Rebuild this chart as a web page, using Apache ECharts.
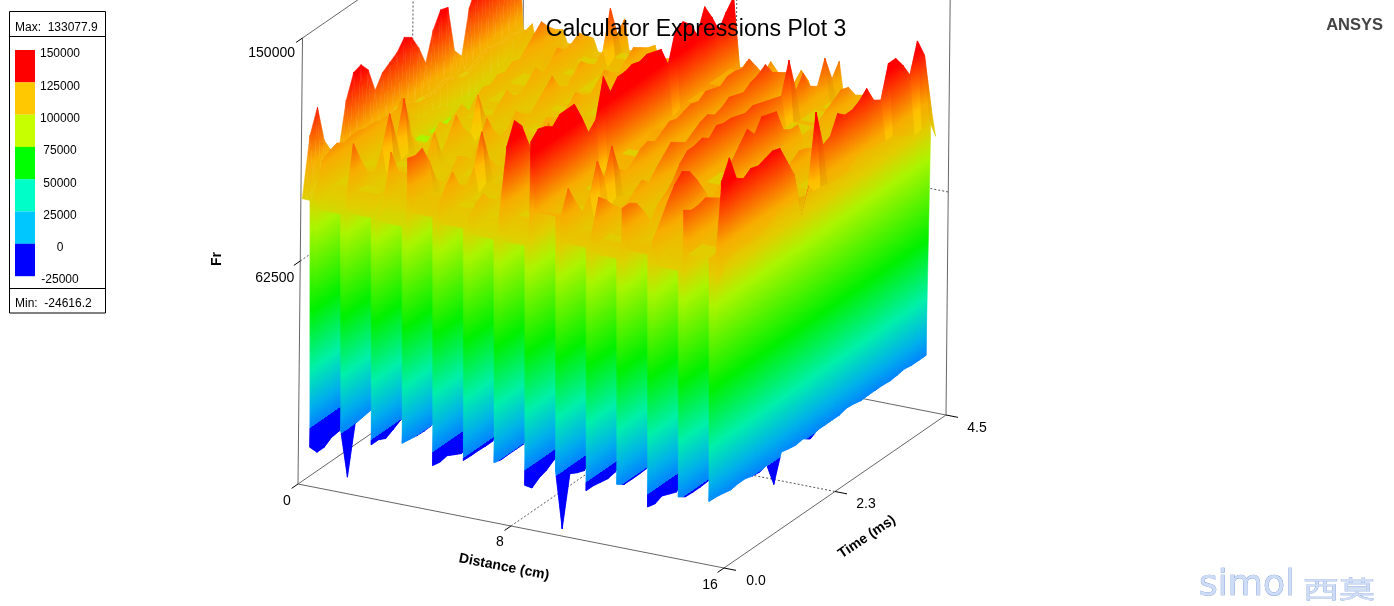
<!DOCTYPE html>
<html><head><meta charset="utf-8">
<style>html,body{margin:0;padding:0;background:#fff}#c{width:1394px;height:606px}</style>
<script src="https://cdn.jsdelivr.net/npm/echarts@6/dist/echarts.min.js"></script>
</head><body><div id="c"></div>
<script>
// ---- sampled times (ms) and slot positions (cm) ----
const times=[0,.147,.293,.44,.587,.733,.88,1.027,1.173,1.32,1.467,1.613,1.76,1.907,2.053,2.2,2.347,2.493,2.64,2.787,2.933,3.08,3.227,3.373,3.52,3.667,3.813,3.96,4.107,4.253,4.4];
const slotDistance=[0.43,1.58,2.73,3.89,5.04,6.19,7.34,8.50,9.65,10.80,11.95,13.11,14.26,15.41];
const firstRidgeDistance=[0.05,0.2];
const ridgeOffset=0.1, shoulderOffset=0.28, edgeOffset=0.09;
// ---- Fr (thousands) along time: slot floors ----
const slot00=[-9.7,-13.6,-13.6,-11.7,-11.3,-10,-8,-5,-3,-1,0,1,0,1,2,1,0,1,1,0,1,2,1,0,1,1,0,1,0,1,0];
const slot01=[-.7,-21,-2,-1.5,-1,0,1,0,1,0,0,1,1,0,1,0,1,1,0,0,1,0,1,0,0,1,1,0,1,0,0];
const slot02=[-4,-4,-5.4,-4,-2.3,-1,0,1,0,1,1,0,0,1,0,1,0,0,1,1,0,1,0,1,0,0,1,0,1,1,0];
const slot03=[-1,-1.5,-2,-2.2,-2,-1,0,0,1,1,0,1,0,0,1,1,0,1,0,1,0,0,1,1,0,1,0,1,1,0,0];
const slot04=[-7.4,-8,-7.4,-9,-10.5,-9,-6,-3,-1,0,1,0,1,0,0,1,1,0,1,0,1,1,0,0,1,0,1,0,0,1,0];
const slot05=[-3,-3.2,-3.2,-3.4,-3.4,-2,-1,0,1,0,0,1,1,0,1,0,1,0,0,1,0,1,1,0,1,0,0,1,1,0,0];
const slot06=[-1.5,-2.3,-2.2,-2.2,-2.2,-1,0,1,0,1,1,0,0,1,0,0,1,1,0,1,1,0,1,0,0,1,0,1,0,1,0];
const slot07=[-8,-11,-9,-8,-6,-4,-2,0,1,0,1,0,1,1,0,0,1,0,1,0,1,1,0,1,0,1,0,0,1,1,0];
const slot08=[0,-24.6,-5,-6.6,-7.7,-5,-2,0,1,1,0,0,1,0,1,1,0,1,0,0,1,0,1,1,0,0,1,0,1,0,0];
const slot09=[-5.4,-5.4,-6,-6.6,-6,-4,-2,0,0,1,0,1,1,0,0,1,0,1,1,0,0,1,0,1,0,1,1,0,0,1,0];
const slot10=[-.5,-2.5,-2.6,-2.6,-2.4,-1,0,1,0,0,1,0,1,1,0,1,0,0,1,1,0,0,1,0,1,0,1,1,0,0,0];
const slot11=[-7,-7.8,-6.6,-7.8,-9,-6,-3,-1,0,1,0,1,0,0,1,0,1,1,0,0,1,1,0,1,0,0,1,0,1,0,0];
const slot12=[-.7,-2.6,-2.8,-2.8,-2.6,-2,-1,0,1,0,1,0,0,1,1,0,0,1,0,1,0,1,1,0,0,1,0,1,0,1,0];
const slot13=[-.1,-.3,-.8,-1.5,-1,-1,-1.9,-2.3,-1.5,-11,-.3,-1,-1.5,-1,-3,-1.5,-1.5,-1.5,-1.5,-.7,-1,-1.7,-1.5,-1.5,-1.5,-1.8,-1.5,-1,-1.5,-1.5,-1.5];
// ---- Fr (thousands) along time: spiky ridge crest of each tooth ----
const ridge00=[87,110,119,104,98,96,114,123,124,120,110,115,117,119,123,121,115,107,118,124,123,104,100,117,124,126,124,120,120,118,118];
const ridge01=[90,101,103,104,102,103,103,102,102,101,101,100,104,95,92,90,91,90,89,87,87,86,86,88,88,90,90,91,95,97,98];
const ridge02=[88,110,102,95,93,100,112,100,114,98,92,90,92,95,92,94,96,92,95,97,96,98,97,99,98,101,104,107,103,100,98];
const ridge03=[86,90,107,98,95,92,94,96,103,93,98,104,97,93,106,96,94,97,100,96,95,98,101,97,99,103,100,101,103,100,97];
const ridge04=[111,110,111,104,95,92,94,98,96,93,99,105,98,94,96,100,97,95,98,101,104,98,96,99,102,99,97,100,115,103,107];
const ridge05=[94,100,104,97,95,100,112,100,95,92,96,101,96,93,97,100,98,96,99,102,99,97,100,103,100,98,101,104,102,100,99];
const ridge06=[92,96,98,94,92,96,104,97,94,91,95,108,98,92,95,99,96,93,97,102,98,95,98,100,97,95,99,102,100,98,96];
const ridge07=[95,121,129,125,116,104,98,96,101,100,96,103,97,94,98,101,103,98,96,100,104,100,97,99,102,100,98,101,103,101,99];
const ridge08=[127,130,129,127,130,130,130,123,115,118,133,125,129,129,130,129,130,129,128,120,132,133,130,124,133,127,120,125,129,98,100];
const ridge09=[100,109,102,96,100,112,103,114,103,100,102,105,106,104,106,108,107,108,109,108,110,109,108,110,110,109,111,106,101,104,98];
const ridge10=[95,108,105,101,98,98,101,103,100,104,107,110,108,106,108,110,111,109,110,112,111,110,112,113,115,110,108,106,100,103,97];
const ridge11=[108,108,106,101,95,100,102,105,110,113,113,114,112,115,114,114,113,112,113,112,111,110,109,121,107,112,105,103,112,102,107];
const ridge12=[98,103,109,114,117,115,110,104,98,100,105,108,112,116,112,117,116,115,106,104,104,95,98,100,102,104,106,105,100,98,96];
const ridge13=[112,110,110,111,109,107,102,100,98,100,102,104,103,101,100,102,104,103,101,100,99,100,102,103,104,102,100,101,102,100,98];
const ridge14=[85.5,124,131,121,119,121,120,121,122,121,114,107,89,98.6,125.4,110.6,112,119,116.5,116.5,118,121,114.5,112.6,125,125,120.4,114.6,126,118.5,96];
// ---- Fr (thousands) along time: smooth shoulder of each tooth ----
const shoulder00=[87,90,93,95,96,96,98,99,99,98,97,98,99,99,98,96,96,95,96,97,96,94,94,95,97,98,97,96,97,96,95];
const shoulder01=[84,88,90,90,90,91,90,90,91,90,90,89,88,86,86,85,85,85,85,84,84,84,85,85,86,86,87,88,89,90,90];
const shoulder02=[85,92,92,90,89,90,92,92,93,91,90,89,89,90,90,90,91,91,91,92,92,92,93,93,93,94,96,97,96,95,93];
const shoulder03=[84,86,92,91,90,89,89,90,91,90,91,92,91,90,92,91,90,91,92,91,90,91,92,91,92,93,93,94,94,93,92];
const shoulder04=[90,92,93,92,90,89,90,91,91,90,91,92,91,90,91,92,91,91,92,93,93,92,92,93,93,93,93,94,96,96,95];
const shoulder05=[88,90,91,91,90,90,92,91,90,90,91,92,91,90,91,92,92,91,92,93,92,92,93,94,93,93,94,95,94,94,93];
const shoulder06=[86,88,89,89,88,88,90,90,89,88,89,91,90,89,90,91,91,90,91,92,91,91,92,93,92,92,93,94,94,93,92];
const shoulder07=[86,90,92,92,91,90,89,89,90,90,89,90,90,89,90,91,91,90,90,92,92,91,91,92,92,92,93,94,94,93,92];
const shoulder08=[100,98,96,94,93,93,94,95,95,96,97,98,99,99,100,100,101,100,100,100,101,102,102,102,103,103,103,103,102,97,96];
const shoulder09=[90,92,91,90,91,93,92,94,93,92,93,94,95,94,95,96,96,97,97,97,98,98,98,98,98,97,96,96,95,94,93];
const shoulder10=[88,92,92,91,90,90,91,92,91,92,93,95,94,94,95,96,96,96,97,97,97,97,98,98,98,97,97,96,94,94,92];
const shoulder11=[92,93,92,91,89,90,91,92,93,95,96,97,97,97,98,98,98,98,98,98,97,97,97,97,96,96,96,95,95,94,94];
const shoulder12=[88,90,93,95,96,96,95,93,91,91,92,93,94,95,95,96,96,96,95,94,93,92,92,92,93,93,94,94,93,92,90];
const shoulder13=[95,95,95,96,95,94,92,91,90,91,91,92,92,91,91,92,92,92,91,91,90,91,91,92,92,92,91,91,91,90,89];
const shoulder14=[86,92,94,94,93,93,94,95,98,98,98,98,97,97,96.5,96,95,95,95,99,99,98,98,97,97,95,93,91.5,91.5,94,85];
// ---- axes and legend text ----
const distanceTicks=[0,8,16], distanceLabels=['0','8','16'];
const timeTicks=[0,2.25,4.5], timeLabels=['0.0','2.3','4.5'];
const frTicks=[150,62.5], frLabels=['150000','62500'];
const legendValues=['150000','125000','100000','75000','50000','25000','0','-25000'];
const legendColors=['#ff0000','#ffc800','#c8ff00','#00ff00','#00ffc8','#00c8ff','#0000ff'];

const slots=[slot00,slot01,slot02,slot03,slot04,slot05,slot06,slot07,slot08,slot09,slot10,slot11,slot12,slot13];
const ridges=[ridge00,ridge01,ridge02,ridge03,ridge04,ridge05,ridge06,ridge07,ridge08,ridge09,ridge10,ridge11,ridge12,ridge13,ridge14];
const shoulders=[shoulder00,shoulder01,shoulder02,shoulder03,shoulder04,shoulder05,shoulder06,shoulder07,shoulder08,shoulder09,shoulder10,shoulder11,shoulder12,shoulder13,shoulder14];

// rows in drawing order, far to near; each tooth keeps its shoulder level up to the next slot
const rows=[{d:firstRidgeDistance[0],v:ridges[0]},{d:firstRidgeDistance[1],v:shoulders[0],top:1},{d:slotDistance[0]-edgeOffset,v:shoulders[0],top:1}];
slots.forEach((s,k)=>{
  rows.push({d:slotDistance[k],v:s});
  rows.push({d:slotDistance[k]+ridgeOffset,v:ridges[k+1],top:1});
  rows.push({d:slotDistance[k]+shoulderOffset,v:shoulders[k+1],top:1});
  if(k+1<slots.length) rows.push({d:slotDistance[k+1]-edgeOffset,v:shoulders[k+1],top:1});
});

// 3D view: maps (distance, time, Fr in thousands) on to the flat hidden axes
function project(d,t,z){
  const h=(z+25)/175;
  return [298+d/16*426+t/4.5*222+h*4.5, 484+d/16*84-t/4.5*153-h*446];
}
const zLo=-25,zHi=150;
function stops(b){
  const mid=b>0?'rgb(255,190,0)':(b<0?'rgb(238,160,0)':'rgb(248,172,0)');
  const low=b>0?'rgb(236,218,0)':'rgb(226,205,0)';
  const s=[[-25,'#0000ff'],[-2.1,'#0000ff'],[-2,'rgb(0,130,255)'],[6,'rgb(0,175,235)'],[21,'rgb(0,240,170)'],[44,'rgb(0,240,0)'],[76,'rgb(170,245,0)'],[88,low],[100,mid],[122,'rgb(255,0,0)'],[150,'rgb(255,0,0)']];
  return s.map(a=>({offset:(a[0]-zLo)/(zHi-zLo),color:a[1]}));
}
const stopSets={'-1':stops(-1),'0':stops(0),'1':stops(1)};
function colorAt(z){
  const st=stopSets[0],o=(z-zLo)/(zHi-zLo);
  for(let i=st.length-1;i>=0;i--) if(o>=st[i].offset) return st[i].color;
  return st[0].color;
}

// surface triangles, far to near
const tris=[];
for(let r=0;r<rows.length-1;r++){
  for(let i=times.length-2;i>=0;i--){
    tris.push([r,i,0]);
    tris.push([r,i,1]);
  }
}
function renderTri(params,api){
  const r=api.value(0),i=api.value(1),w=api.value(2);
  const a=rows[r],b=rows[r+1];
  const nodes=w===0?[[a,i+1],[b,i+1],[b,i]]:[[a,i+1],[b,i],[a,i]];
  const pts=nodes.map(n=>api.coord(project(n[0].d,times[n[1]],n[0].v[n[1]])));
  const zs=nodes.map(n=>n[0].v[n[1]]);
  const ux=pts[1][0]-pts[0][0],uy=pts[1][1]-pts[0][1],vx=pts[2][0]-pts[0][0],vy=pts[2][1]-pts[0][1];
  const det=ux*vy-uy*vx;
  const dz1=zs[1]-zs[0],dz2=zs[2]-zs[0];
  let fill;
  if(Math.abs(det)<1e-3){
    fill=colorAt((zs[0]+zs[1]+zs[2])/3);
  }else{
    const gx=(dz1*vy-dz2*uy)/det, gy=(dz2*ux-dz1*vx)/det, g2=gx*gx+gy*gy;
    if(g2<1e-9){fill=colorAt(zs[0]);}
    else{
      const slope=(a.v[i+1]+b.v[i+1]-a.v[i]-b.v[i])/2;
      const bucket=(a.top&&b.top&&i>1)?(slope>5?1:(slope<-5?-1:0)):0;
      fill={type:'linear',global:true,
        x:pts[0][0]+(zLo-zs[0])*gx/g2,y:pts[0][1]+(zLo-zs[0])*gy/g2,
        x2:pts[0][0]+(zHi-zs[0])*gx/g2,y2:pts[0][1]+(zHi-zs[0])*gy/g2,
        colorStops:stopSets[bucket]};
    }
  }
  return {type:'polygon',shape:{points:pts},style:{fill:fill,stroke:fill,lineWidth:0.5},silent:true};
}

// frame segments as [d1,t1,z1,d2,t2,z2,kind]
const solid=0,dashed=1,tick=2;
const frame=[
 [0,0,-25,0,4.5,-25,solid],[0,4.5,-25,16,4.5,-25,solid],
 [0,0,-25,0,0,150,solid],[0,4.5,-25,0,4.5,150,solid],[16,4.5,-25,16,4.5,150,solid],
 [0,0,150,0,4.5,150,solid],[0,4.5,150,16,4.5,150,solid],
 [8,0,-25,8,4.5,-25,dashed],[0,2.25,-25,16,2.25,-25,dashed],
 [8,4.5,-25,8,4.5,150,dashed],[0,2.25,-25,0,2.25,150,dashed],
 [0,0,62.5,0,4.5,62.5,dashed],[0,4.5,62.5,16,4.5,62.5,dashed]
];
const front=[[0,0,-25,16,0,-25,solid],[16,0,-25,16,4.5,-25,solid]];
distanceTicks.forEach(d=>front.push([d,0,-25,d,-0.13,-25,tick]));
timeTicks.forEach(t=>front.push([16,t,-25,16.45,t,-25,tick]));
frTicks.forEach(z=>front.push([0,0,z,0,-0.13,z,tick]));
function renderSeg(params,api){
  const p=api.coord(project(api.value(0),api.value(1),api.value(2)));
  const q=api.coord(project(api.value(3),api.value(4),api.value(5)));
  const k=api.value(6);
  return {type:'line',shape:{x1:p[0],y1:p[1],x2:q[0],y2:q[1]},silent:true,
    style:{stroke:k===tick?'#000':(k===dashed?'#555':'#666'),lineWidth:1,lineDash:k===dashed?[2,2]:null}};
}

// text
const F='"Liberation Sans",Arial,sans-serif';
const g=[];
function txt(s,x,y,o){
  o=o||{};
  g.push({type:'text',x:x,y:y,rotation:o.rot||0,scaleY:o.sy||1,z:o.z||100,silent:true,
    style:{text:s,font:(o.w||'normal')+' '+(o.size||14)+'px '+(o.fam||F),fill:o.fill||'#000',
      stroke:o.stroke||null,lineWidth:o.lw||0,textAlign:o.al||'center',textVerticalAlign:'middle'}});
}
function rect(x,y,w,h,fill,stroke){
  g.push({type:'rect',shape:{x:x,y:y,width:w,height:h},z:90,silent:true,
    style:{fill:fill,stroke:stroke||null,lineWidth:1}});
}
// legend box
rect(9.5,11.5,96,301.5,'#fff','#000');
g.push({type:'line',shape:{x1:10,y1:36.5,x2:105,y2:36.5},z:91,silent:true,style:{stroke:'#000',lineWidth:1}});
g.push({type:'line',shape:{x1:10,y1:288.5,x2:105,y2:288.5},z:91,silent:true,style:{stroke:'#000',lineWidth:1}});
legendColors.forEach((c,i)=>rect(15,50+i*32.3,20,32.4,c));
legendValues.forEach((v,i)=>txt(v,60,54+i*32.3,{size:12,z:95}));
txt('Max:  133077.9',15,28,{size:12,al:'left'});
txt('Min:  -24616.2',15,304,{size:12,al:'left'});
txt('Calculator Expressions Plot 3',696,30,{size:23});
txt('ANSYS',1383,25,{size:16.5,w:'bold',al:'right',fill:'#444'});
// axis labels
const labelOffset={d:[[-11,17],[-11,16.5],[-14,17]],t:[[32,13],[31,13],[31,13]],z:[[-7.5,15],[-6,17]]};
distanceLabels.forEach((s,i)=>{const p=project(distanceTicks[i],0,-25);txt(s,p[0]+labelOffset.d[i][0],p[1]+labelOffset.d[i][1]);});
timeLabels.forEach((s,i)=>{const p=project(16,timeTicks[i],-25);txt(s,p[0]+labelOffset.t[i][0],p[1]+labelOffset.t[i][1]);});
frLabels.forEach((s,i)=>{const p=project(0,0,frTicks[i]);txt(s,p[0]+labelOffset.z[i][0],p[1]+labelOffset.z[i][1],{al:'right'});});
txt('Distance (cm)',504,567,{size:14,w:'bold',rot:-11*Math.PI/180});
txt('Time (ms)',867,537,{size:14,w:'bold',rot:34*Math.PI/180});
txt('Fr',217,259,{size:14,w:'bold',rot:Math.PI/2});
// watermark
txt('simol',1247,586,{size:36,al:'center',fill:'#cfdcf5',stroke:'#6d90d6',lw:0.7,fam:'"DejaVu Sans",sans-serif'});
txt('西莫',1339,589,{size:36,al:'center',fill:'#cfdcf5',stroke:'#6d90d6',lw:0.7,fam:'"Noto Sans CJK SC",sans-serif',sy:0.66});

const chart=echarts.init(document.getElementById('c'),null,{renderer:'canvas'});
chart.setOption({
  animation:false,backgroundColor:'#fff',
  grid:{left:0,right:0,top:0,bottom:0},
  xAxis:{type:'value',min:0,max:1394,show:false},
  yAxis:{type:'value',min:0,max:606,inverse:true,show:false},
  series:[
    {type:'custom',z:1,progressive:0,clip:true,renderItem:renderSeg,data:frame,silent:true},
    {type:'custom',z:2,progressive:0,clip:true,renderItem:renderTri,data:tris,silent:true},
    {type:'custom',z:3,progressive:0,clip:true,renderItem:renderSeg,data:front,silent:true}
  ],
  graphic:{elements:g}
});
</script></body></html>
